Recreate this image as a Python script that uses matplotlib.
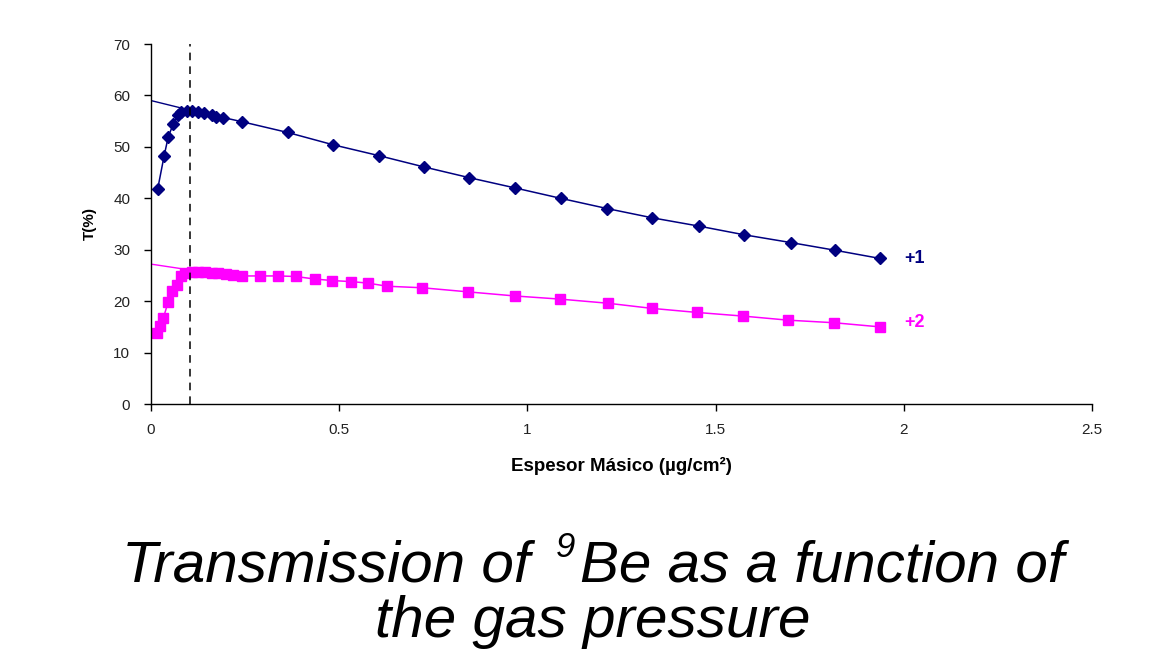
import matplotlib
matplotlib.use("Agg")
import matplotlib.pyplot as plt
from matplotlib import font_manager

# Transmission T(%) vs areal thickness, charge state +1
blue_x = [0.018, 0.035, 0.046, 0.059, 0.071, 0.081, 0.095, 0.108, 0.124, 0.141,
          0.161, 0.174, 0.192, 0.241, 0.363, 0.484, 0.605, 0.725, 0.846, 0.968,
          1.088, 1.212, 1.332, 1.455, 1.576, 1.699, 1.817, 1.937]
blue_y = [41.9, 48.3, 52.0, 54.4, 56.1, 56.7, 56.9, 56.9, 56.7, 56.5,
          56.2, 55.9, 55.7, 54.9, 52.8, 50.4, 48.3, 46.1, 44.0, 42.0,
          40.0, 38.0, 36.2, 34.6, 32.9, 31.4, 29.9, 28.3]

# Transmission T(%) vs areal thickness, charge state +2
mag_x = [0.015, 0.024, 0.033, 0.046, 0.055, 0.068, 0.081, 0.090, 0.108, 0.125,
         0.143, 0.161, 0.178, 0.200, 0.218, 0.242, 0.289, 0.337, 0.384, 0.435,
         0.482, 0.532, 0.577, 0.627, 0.721, 0.843, 0.968, 1.086, 1.213, 1.330,
         1.451, 1.572, 1.693, 1.815, 1.936]
mag_y = [13.8, 15.2, 16.8, 19.9, 22.0, 23.2, 24.8, 25.4, 25.7, 25.7,
         25.6, 25.5, 25.5, 25.3, 25.1, 24.9, 24.9, 24.9, 24.8, 24.3,
         24.0, 23.8, 23.5, 22.9, 22.6, 21.8, 21.0, 20.4, 19.6, 18.6,
         17.8, 17.1, 16.3, 15.8, 15.0]

# Linear extrapolations back to zero thickness
blue_fit_x = [0.0, 0.100]
blue_fit_y = [59.0, 57.2]
mag_fit_x = [0.0, 0.100]
mag_fit_y = [27.2, 26.1]

# Thickness marked by the dashed line
x_mark = 0.103

x_ticks = [0, 0.5, 1, 1.5, 2, 2.5]
x_tick_labels = ["0", "0.5", "1", "1.5", "2", "2.5"]
y_ticks = [0, 10, 20, 30, 40, 50, 60, 70]

series_labels = ["+1", "+2"]

installed = {f.name for f in font_manager.fontManager.ttflist}
narrow = "Liberation Sans Narrow" if "Liberation Sans Narrow" in installed else "Liberation Sans"
plt.rcParams["font.family"] = [narrow, "DejaVu Sans"]

NAVY = "#000080"
MAGENTA = "#FF00FF"

W, H = 1152, 649
fig = plt.figure(figsize=(W / 100, H / 100), dpi=100)
ax = fig.add_axes([151 / W, 1 - 404 / H, (1092 - 151) / W, (404 - 44) / H])

ax.plot(blue_fit_x, blue_fit_y, color=NAVY, lw=1.0)
ax.plot(mag_fit_x, mag_fit_y, color=MAGENTA, lw=1.0)
ax.plot(blue_x, blue_y, color=NAVY, lw=1.1, marker="D", ms=6, mec=NAVY, mfc=NAVY)
ax.plot(mag_x, mag_y, color=MAGENTA, lw=1.1, marker="s", ms=6.5, mec=MAGENTA, mfc=MAGENTA)
ax.axvline(x_mark, color="black", lw=1.1, ls=(0, (5, 4)))

ax.set_xlim(0, 2.5)
ax.set_ylim(0, 70)
ax.set_xticks(x_ticks)
ax.set_xticklabels(x_tick_labels)
ax.set_yticks(y_ticks)
for s in ("top", "right"):
    ax.spines[s].set_visible(False)
for s in ("left", "bottom"):
    ax.spines[s].set_linewidth(1.0)
    ax.spines[s].set_color("black")
ax.tick_params(direction="out", length=5, width=1.0, labelsize=11, colors="black",
               labelcolor="#222222")
ax.tick_params(axis="x", pad=9)
ax.tick_params(axis="y", pad=10)

ax.set_xlabel("Espesor Másico (µg/cm²)", fontsize=13.5, fontweight="bold", labelpad=14)
ax.set_ylabel("T(%)", fontsize=11, fontweight="bold", labelpad=12)

ax.text(blue_x[-1] + 0.065, blue_y[-1], series_labels[0], color=NAVY, fontsize=13,
        fontweight="bold", va="center", ha="left")
ax.text(mag_x[-1] + 0.065, mag_y[-1] + 0.8, series_labels[1], color=MAGENTA, fontsize=13,
        fontweight="bold", va="center", ha="left")

# Caption: first line built from pieces so the mass number sits as a small superscript
cap_kw = dict(fontsize=42, fontstyle="italic", va="baseline", ha="left", color="black")
renderer = fig.canvas.get_renderer()
base1 = 1 - 581 / H
p1 = fig.text(0, base1, "Transmission of", **cap_kw)
p2 = fig.text(0, 1 - 557 / H, "9", fontsize=25, fontstyle="italic", va="baseline",
              ha="left", color="black")
p3 = fig.text(0, base1, "Be as a function of", **cap_kw)
w1 = p1.get_window_extent(renderer).width
w2 = p2.get_window_extent(renderer).width
w3 = p3.get_window_extent(renderer).width
gap_a, gap_b = 26, 5
total = w1 + gap_a + w2 + gap_b + w3
x0 = 593 - total / 2
p1.set_x(x0 / W)
p2.set_x((x0 + w1 + gap_a) / W)
p3.set_x((x0 + w1 + gap_a + w2 + gap_b) / W)

fig.text(593 / W, 1 - 637 / H, "the gas pressure", fontsize=42, fontstyle="italic",
         ha="center", va="baseline", color="black")

fig.savefig("out.png", dpi=100, facecolor="white")
